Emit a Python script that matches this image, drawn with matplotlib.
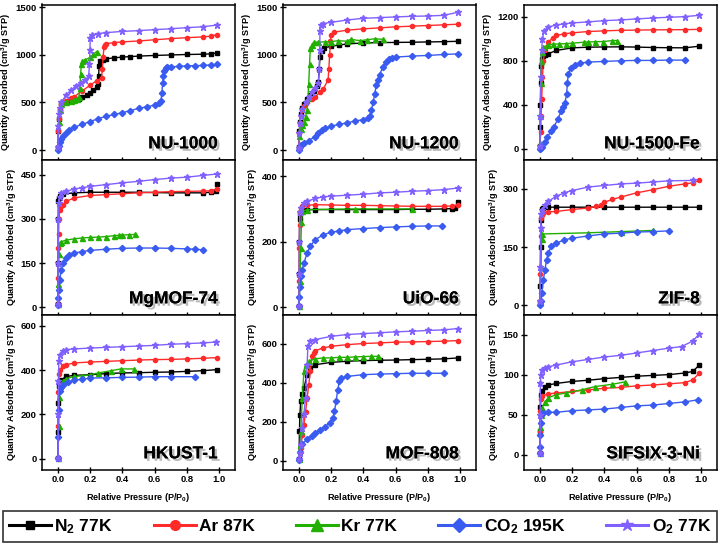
import matplotlib
matplotlib.use("Agg")
import matplotlib.pyplot as plt
import matplotlib.patheffects as pe
from matplotlib.lines import Line2D

plt.rcParams["font.family"] = ["Liberation Sans", "DejaVu Sans"]
plt.rcParams["font.weight"] = "bold"
plt.rcParams["mathtext.fontset"] = "custom"
plt.rcParams["mathtext.rm"] = "Liberation Sans:bold"
plt.rcParams["mathtext.bf"] = "Liberation Sans:bold"
plt.rcParams["mathtext.default"] = "bf"

# ── data (P/P0, cm3/g STP) ─────────────────────
# NU-1000
nu1000_n2_x = [0.0, 0.002, 0.005, 0.01, 0.02, 0.03, 0.05, 0.08, 0.1, 0.13, 0.15, 0.18, 0.2, 0.22, 0.24, 0.25, 0.252, 0.255, 0.26, 0.28, 0.3, 0.35, 0.4, 0.45, 0.5, 0.6, 0.7, 0.8, 0.9, 0.95, 0.99]
nu1000_n2_y = [20, 200, 330, 420, 480, 500, 510, 520, 525, 540, 560, 580, 602, 630, 660, 690, 780, 880, 935, 950, 960, 970, 978, 983, 988, 995, 1000, 1005, 1008, 1012, 1020]
nu1000_ar_x = [0.0, 0.002, 0.005, 0.01, 0.02, 0.03, 0.05, 0.08, 0.1, 0.15, 0.2, 0.24, 0.27, 0.275, 0.28, 0.285, 0.29, 0.3, 0.35, 0.4, 0.5, 0.6, 0.7, 0.8, 0.9, 0.95, 0.99]
nu1000_ar_y = [30, 200, 330, 420, 480, 500, 520, 545, 560, 623, 682, 730, 755, 850, 980, 1080, 1110, 1120, 1130, 1138, 1147, 1160, 1172, 1182, 1190, 1198, 1215]
nu1000_kr_x = [0.0, 0.005, 0.01, 0.02, 0.05, 0.08, 0.1, 0.12, 0.13, 0.135, 0.14, 0.145, 0.15, 0.17, 0.2, 0.22, 0.24]
nu1000_kr_y = [40, 300, 420, 480, 508, 515, 525, 540, 560, 650, 800, 900, 940, 950, 975, 1010, 1035]
nu1000_co2_x = [0.0, 0.005, 0.01, 0.02, 0.03, 0.05, 0.07, 0.1, 0.15, 0.2, 0.25, 0.3, 0.35, 0.4, 0.45, 0.5, 0.55, 0.6, 0.63, 0.64, 0.645, 0.65, 0.655, 0.66, 0.67, 0.68, 0.7, 0.75, 0.8, 0.85, 0.9, 0.95, 0.99]
nu1000_co2_y = [0, 40, 80, 120, 145, 180, 212, 240, 270, 300, 330, 355, 375, 393, 415, 438, 455, 472, 490, 520, 600, 700, 780, 830, 860, 870, 875, 880, 885, 888, 890, 895, 900]
nu1000_o2_x = [0.0, 0.002, 0.005, 0.01, 0.02, 0.05, 0.08, 0.11, 0.14, 0.17, 0.19, 0.195, 0.198, 0.2, 0.21, 0.25, 0.3, 0.4, 0.5, 0.6, 0.7, 0.8, 0.9, 0.99]
nu1000_o2_y = [30, 250, 380, 440, 500, 580, 630, 672, 705, 734, 776, 900, 1050, 1180, 1215, 1225, 1235, 1248, 1256, 1266, 1276, 1287, 1297, 1315]

# NU-1200
nu1200_n2_x = [0.0, 0.002, 0.005, 0.01, 0.02, 0.03, 0.05, 0.07, 0.09, 0.11, 0.12, 0.125, 0.13, 0.14, 0.155, 0.2, 0.25, 0.3, 0.4, 0.5, 0.6, 0.7, 0.8, 0.9, 0.99]
nu1200_n2_y = [30, 200, 300, 380, 440, 487, 535, 574, 625, 677, 720, 850, 980, 1040, 1075, 1092, 1105, 1116, 1127, 1130, 1132, 1134, 1137, 1140, 1144]
nu1200_ar_x = [0.0, 0.002, 0.005, 0.01, 0.02, 0.03, 0.05, 0.08, 0.1, 0.13, 0.15, 0.18, 0.185, 0.19, 0.195, 0.2, 0.22, 0.3, 0.4, 0.5, 0.6, 0.7, 0.8, 0.9, 0.99]
nu1200_ar_y = [30, 180, 280, 360, 420, 460, 500, 535, 556, 610, 643, 735, 850, 1000, 1150, 1205, 1241, 1261, 1275, 1285, 1296, 1303, 1310, 1317, 1324]
nu1200_kr_x = [0.0, 0.01, 0.02, 0.03, 0.04, 0.05, 0.055, 0.06, 0.065, 0.07, 0.08, 0.09, 0.12, 0.16, 0.2, 0.24, 0.3, 0.32, 0.38, 0.42, 0.47, 0.52]
nu1200_kr_y = [150, 220, 260, 300, 350, 420, 550, 695, 900, 1075, 1110, 1134, 1135, 1138, 1140, 1150, 1145, 1165, 1150, 1160, 1170, 1165]
nu1200_co2_x = [0.0, 0.005, 0.01, 0.03, 0.06, 0.1, 0.12, 0.14, 0.16, 0.2, 0.25, 0.3, 0.35, 0.4, 0.43, 0.44, 0.45, 0.46, 0.47, 0.48, 0.49, 0.5, 0.52, 0.54, 0.56, 0.58, 0.6, 0.7, 0.8, 0.9, 0.99]
nu1200_co2_y = [0, 30, 50, 73, 100, 140, 175, 210, 230, 252, 270, 287, 305, 321, 335, 360, 420, 500, 590, 680, 740, 790, 870, 930, 960, 970, 978, 988, 995, 1005, 1012]
nu1200_o2_x = [0.0, 0.002, 0.005, 0.01, 0.02, 0.04, 0.06, 0.08, 0.1, 0.12, 0.125, 0.128, 0.13, 0.135, 0.15, 0.2, 0.3, 0.4, 0.5, 0.6, 0.7, 0.8, 0.9, 0.99]
nu1200_o2_y = [20, 180, 280, 360, 430, 500, 560, 610, 650, 700, 850, 1050, 1250, 1320, 1330, 1344, 1368, 1386, 1393, 1400, 1407, 1410, 1417, 1450]

# NU-1500-Fe
nu1500_n2_x = [0.0, 0.001, 0.002, 0.004, 0.006, 0.01, 0.02, 0.03, 0.05, 0.1, 0.2, 0.3, 0.4, 0.5, 0.6, 0.7, 0.8, 0.9, 0.99]
nu1500_n2_y = [30, 200, 400, 600, 750, 820, 845, 855, 863, 893, 917, 923, 925, 926, 924, 920, 918, 917, 932]
nu1500_ar_x = [0.0, 0.003, 0.006, 0.01, 0.015, 0.02, 0.03, 0.05, 0.08, 0.1, 0.15, 0.2, 0.3, 0.4, 0.5, 0.6, 0.7, 0.8, 0.9, 0.99]
nu1500_ar_y = [30, 150, 300, 450, 650, 800, 893, 968, 1010, 1029, 1044, 1053, 1065, 1071, 1076, 1078, 1080, 1081, 1082, 1085]
nu1500_kr_x = [0.0, 0.002, 0.004, 0.006, 0.01, 0.02, 0.05, 0.08, 0.12, 0.16, 0.2, 0.27, 0.3, 0.34, 0.39, 0.45, 0.48]
nu1500_kr_y = [50, 300, 600, 800, 880, 923, 944, 950, 953, 955, 959, 968, 971, 972, 974, 983, 983]
nu1500_co2_x = [0.0, 0.005, 0.015, 0.03, 0.046, 0.07, 0.087, 0.11, 0.13, 0.145, 0.155, 0.165, 0.17, 0.175, 0.19, 0.22, 0.25, 0.3, 0.4, 0.5, 0.6, 0.7, 0.8, 0.9]
nu1500_co2_y = [0, 10, 21, 65, 111, 165, 201, 270, 340, 385, 420, 500, 600, 680, 730, 764, 779, 788, 794, 800, 803, 803, 806, 806]
nu1500_o2_x = [0.0, 0.002, 0.005, 0.01, 0.015, 0.025, 0.05, 0.1, 0.15, 0.2, 0.3, 0.4, 0.5, 0.6, 0.7, 0.8, 0.9, 0.99]
nu1500_o2_y = [30, 300, 650, 900, 1000, 1074, 1104, 1125, 1134, 1143, 1152, 1164, 1170, 1179, 1188, 1194, 1200, 1212]

# MgMOF-74
mgmof_n2_x = [0.0, 0.0005, 0.001, 0.002, 0.005, 0.01, 0.03, 0.1, 0.2, 0.3, 0.4, 0.5, 0.6, 0.7, 0.8, 0.9, 0.95, 0.98, 0.99]
mgmof_n2_y = [10, 150, 300, 360, 370, 376, 384, 388, 390, 390, 390, 390, 389, 388, 388, 388, 390, 395, 419]
mgmof_ar_x = [0.0, 0.001, 0.002, 0.003, 0.005, 0.01, 0.02, 0.03, 0.05, 0.1, 0.2, 0.3, 0.4, 0.5, 0.6, 0.7, 0.8, 0.9, 0.95, 0.99]
mgmof_ar_y = [10, 100, 200, 250, 300, 331, 342, 348, 359, 371, 379, 382, 385, 388, 390, 392, 393, 394, 395, 400]
mgmof_kr_x = [0.0, 0.002, 0.005, 0.01, 0.02, 0.05, 0.1, 0.15, 0.2, 0.25, 0.3, 0.35, 0.38, 0.4, 0.44, 0.48]
mgmof_kr_y = [10, 80, 180, 218, 222, 228, 232, 235, 237, 238, 240, 243, 244, 245, 246, 247]
mgmof_co2_x = [0.0, 0.002, 0.005, 0.01, 0.02, 0.03, 0.05, 0.07, 0.1, 0.15, 0.2, 0.3, 0.4, 0.5, 0.6, 0.7, 0.8, 0.85, 0.9]
mgmof_co2_y = [8, 30, 60, 93, 127, 150, 167, 177, 184, 189, 193, 197, 200, 201, 201, 200, 198, 197, 195]
mgmof_o2_x = [0.0, 0.001, 0.002, 0.005, 0.01, 0.02, 0.05, 0.1, 0.15, 0.2, 0.3, 0.4, 0.5, 0.6, 0.7, 0.8, 0.9, 0.99]
mgmof_o2_y = [10, 150, 300, 355, 375, 388, 393, 401, 405, 410, 416, 422, 427, 433, 438, 441, 447, 452]

# UiO-66
uio_n2_x = [0.0, 0.001, 0.002, 0.003, 0.005, 0.01, 0.02, 0.05, 0.1, 0.2, 0.3, 0.4, 0.5, 0.6, 0.7, 0.8, 0.9, 0.95, 0.97, 0.99]
uio_n2_y = [5, 100, 200, 270, 285, 292, 296, 298, 298, 298, 298, 298, 298, 298, 299, 299, 300, 301, 303, 320]
uio_ar_x = [0.0, 0.001, 0.002, 0.003, 0.005, 0.01, 0.02, 0.05, 0.1, 0.2, 0.3, 0.4, 0.5, 0.6, 0.7, 0.8, 0.9, 0.95, 0.99]
uio_ar_y = [5, 80, 180, 250, 290, 302, 308, 311, 313, 312, 311, 311, 310, 309, 308, 308, 308, 309, 313]
uio_kr_x = [0.0, 0.005, 0.01, 0.015, 0.02, 0.05, 0.35, 0.7]
uio_kr_y = [5, 80, 180, 260, 293, 298, 300, 300]
uio_co2_x = [0.0, 0.002, 0.005, 0.01, 0.02, 0.03, 0.05, 0.07, 0.1, 0.15, 0.2, 0.25, 0.3, 0.4, 0.5, 0.6, 0.7, 0.8, 0.89]
uio_co2_y = [2, 30, 63, 94, 114, 135, 165, 186, 206, 221, 229, 233, 237, 240, 243, 245, 247, 248, 248]
uio_o2_x = [0.0, 0.001, 0.002, 0.005, 0.01, 0.03, 0.05, 0.1, 0.15, 0.2, 0.3, 0.4, 0.5, 0.6, 0.7, 0.8, 0.9, 0.99]
uio_o2_y = [5, 100, 200, 290, 303, 318, 323, 332, 337, 339, 342, 345, 349, 351, 354, 356, 359, 364]

# ZIF-8
zif_n2_x = [0.0, 0.002, 0.004, 0.006, 0.01, 0.02, 0.05, 0.1, 0.2, 0.3, 0.4, 0.5, 0.6, 0.7, 0.8, 0.9, 0.99]
zif_n2_y = [5, 50, 150, 220, 248, 251, 253, 253, 253, 253, 253, 253, 253, 253, 253, 253, 253]
zif_ar_x = [0.0, 0.002, 0.004, 0.006, 0.01, 0.02, 0.05, 0.1, 0.2, 0.3, 0.35, 0.38, 0.4, 0.45, 0.5, 0.6, 0.7, 0.8, 0.9, 0.95, 0.99]
zif_ar_y = [10, 80, 180, 225, 233, 238, 241, 242, 247, 251, 255, 259, 266, 273, 279, 290, 298, 307, 313, 316, 322]
zif_kr_x = [0.0, 0.005, 0.01, 0.015, 0.3, 0.5, 0.7]
zif_kr_y = [10, 100, 170, 184, 187, 190, 193]
zif_co2_x = [0.0, 0.005, 0.01, 0.02, 0.03, 0.04, 0.05, 0.07, 0.1, 0.15, 0.2, 0.3, 0.4, 0.5, 0.6, 0.7, 0.8]
zif_co2_y = [2, 10, 31, 65, 91, 117, 134, 152, 160, 169, 173, 179, 184, 186, 189, 190, 192]
zif_o2_x = [0.0, 0.001, 0.003, 0.006, 0.01, 0.03, 0.05, 0.1, 0.15, 0.2, 0.3, 0.4, 0.5, 0.6, 0.7, 0.8, 0.95]
zif_o2_y = [10, 100, 200, 235, 247, 258, 268, 281, 290, 296, 305, 309, 313, 315, 318, 321, 322]

# HKUST-1
hkust_n2_x = [0.0, 0.001, 0.002, 0.005, 0.01, 0.02, 0.05, 0.1, 0.2, 0.3, 0.4, 0.5, 0.6, 0.7, 0.8, 0.9, 0.99]
hkust_n2_y = [5, 120, 250, 330, 345, 356, 371, 376, 379, 384, 387, 388, 390, 391, 394, 397, 402]
hkust_ar_x = [0.0, 0.001, 0.002, 0.005, 0.01, 0.03, 0.05, 0.1, 0.2, 0.3, 0.4, 0.5, 0.6, 0.7, 0.8, 0.9, 0.99]
hkust_ar_y = [5, 150, 300, 380, 402, 417, 424, 432, 436, 439, 442, 445, 447, 448, 450, 453, 456]
hkust_kr_x = [0.0, 0.003, 0.006, 0.01, 0.03, 0.05, 0.1, 0.15, 0.2, 0.25, 0.33, 0.39, 0.47]
hkust_kr_y = [5, 150, 280, 330, 349, 361, 371, 374, 379, 387, 397, 405, 405]
hkust_co2_x = [0.0, 0.002, 0.005, 0.01, 0.02, 0.03, 0.06, 0.1, 0.15, 0.2, 0.3, 0.4, 0.5, 0.6, 0.7, 0.85]
hkust_co2_y = [5, 100, 220, 304, 325, 334, 346, 353, 359, 364, 365, 367, 368, 370, 370, 370]
hkust_o2_x = [0.0, 0.001, 0.002, 0.005, 0.01, 0.03, 0.05, 0.1, 0.2, 0.3, 0.4, 0.5, 0.6, 0.7, 0.8, 0.9, 0.98]
hkust_o2_y = [5, 200, 350, 440, 469, 487, 492, 495, 499, 502, 505, 508, 511, 516, 519, 522, 526]

# MOF-808
mof808_n2_x = [0.0, 0.002, 0.005, 0.01, 0.02, 0.03, 0.05, 0.07, 0.1, 0.2, 0.3, 0.4, 0.5, 0.6, 0.7, 0.8, 0.9, 0.99]
mof808_n2_y = [10, 150, 235, 304, 345, 373, 442, 476, 493, 505, 511, 514, 516, 517, 519, 521, 523, 528]
mof808_ar_x = [0.0, 0.005, 0.01, 0.02, 0.03, 0.04, 0.05, 0.06, 0.07, 0.08, 0.09, 0.1, 0.15, 0.2, 0.3, 0.4, 0.5, 0.6, 0.7, 0.8, 0.9, 0.99]
mof808_ar_y = [10, 40, 64, 130, 184, 250, 321, 390, 459, 536, 555, 565, 579, 588, 596, 602, 605, 609, 610, 612, 614, 617]
mof808_kr_x = [0.0, 0.005, 0.01, 0.02, 0.03, 0.04, 0.06, 0.1, 0.15, 0.2, 0.25, 0.3, 0.35, 0.4, 0.45, 0.49]
mof808_kr_y = [10, 80, 150, 321, 459, 493, 511, 523, 528, 528, 531, 531, 533, 535, 536, 536]
mof808_co2_x = [0.0, 0.005, 0.02, 0.05, 0.08, 0.1, 0.13, 0.16, 0.19, 0.21, 0.22, 0.23, 0.24, 0.25, 0.26, 0.3, 0.4, 0.5, 0.6, 0.7, 0.8, 0.9]
mof808_co2_y = [5, 46, 85, 110, 128, 141, 158, 175, 193, 218, 253, 304, 364, 407, 425, 433, 442, 445, 447, 449, 449, 449]
mof808_o2_x = [0.0, 0.005, 0.01, 0.02, 0.03, 0.04, 0.05, 0.055, 0.07, 0.1, 0.2, 0.3, 0.4, 0.5, 0.6, 0.7, 0.8, 0.9, 0.99]
mof808_o2_y = [10, 40, 80, 167, 240, 321, 493, 588, 614, 622, 639, 648, 653, 657, 662, 665, 669, 672, 679]

# SIFSIX-3-Ni
sifsix_n2_x = [0.0, 0.001, 0.002, 0.005, 0.01, 0.03, 0.05, 0.1, 0.2, 0.3, 0.4, 0.5, 0.6, 0.7, 0.8, 0.9, 0.95, 0.99]
sifsix_n2_y = [2, 30, 60, 75, 79, 85, 87, 89, 91.5, 93, 95, 96.5, 98, 99, 100, 102, 104, 112]
sifsix_ar_x = [0.0, 0.001, 0.002, 0.003, 0.01, 0.05, 0.1, 0.2, 0.3, 0.4, 0.5, 0.6, 0.7, 0.8, 0.9, 0.95, 0.99]
sifsix_ar_y = [2, 30, 55, 70, 73, 76, 77, 79, 81, 83, 84, 86, 87, 88.5, 90, 93.5, 102]
sifsix_kr_x = [0.0, 0.002, 0.005, 0.01, 0.03, 0.05, 0.1, 0.16, 0.26, 0.34, 0.45, 0.53]
sifsix_kr_y = [2, 35, 50, 58, 66, 71, 75, 77, 81, 85, 88, 91]
sifsix_co2_x = [0.0, 0.001, 0.002, 0.003, 0.005, 0.02, 0.05, 0.1, 0.2, 0.3, 0.4, 0.5, 0.6, 0.7, 0.8, 0.9, 0.98]
sifsix_co2_y = [2, 10, 25, 40, 50, 52, 53, 53, 55, 56, 57, 59, 61, 62, 64, 66, 68.5]
sifsix_o2_x = [0.0, 0.001, 0.002, 0.005, 0.01, 0.03, 0.05, 0.1, 0.2, 0.3, 0.4, 0.5, 0.6, 0.7, 0.8, 0.88, 0.95, 0.99]
sifsix_o2_y = [2, 50, 90, 100, 106, 108, 109.5, 112, 116, 119, 122, 124, 127, 130, 133, 135, 142, 151]

names = ["NU-1000", "NU-1200", "NU-1500-Fe", "MgMOF-74", "UiO-66", "ZIF-8",
         "HKUST-1", "MOF-808", "SIFSIX-3-Ni"]
yticks = [[0, 500, 1000, 1500], [0, 500, 1000, 1500], [0, 400, 800, 1200],
          [0, 150, 300, 450], [0, 200, 400], [0, 150, 300],
          [0, 200, 400, 600], [0, 200, 400, 600], [0, 50, 100, 150]]
ylims = [(-105, 1531), (-105, 1531), (-100, 1310),
         (-26, 501), (-24, 451), (-25, 376),
         (-50, 650), (-48, 751), (-19, 175)]

panels = [
    [(nu1000_n2_x, nu1000_n2_y), (nu1000_ar_x, nu1000_ar_y), (nu1000_kr_x, nu1000_kr_y), (nu1000_co2_x, nu1000_co2_y), (nu1000_o2_x, nu1000_o2_y)],
    [(nu1200_n2_x, nu1200_n2_y), (nu1200_ar_x, nu1200_ar_y), (nu1200_kr_x, nu1200_kr_y), (nu1200_co2_x, nu1200_co2_y), (nu1200_o2_x, nu1200_o2_y)],
    [(nu1500_n2_x, nu1500_n2_y), (nu1500_ar_x, nu1500_ar_y), (nu1500_kr_x, nu1500_kr_y), (nu1500_co2_x, nu1500_co2_y), (nu1500_o2_x, nu1500_o2_y)],
    [(mgmof_n2_x, mgmof_n2_y), (mgmof_ar_x, mgmof_ar_y), (mgmof_kr_x, mgmof_kr_y), (mgmof_co2_x, mgmof_co2_y), (mgmof_o2_x, mgmof_o2_y)],
    [(uio_n2_x, uio_n2_y), (uio_ar_x, uio_ar_y), (uio_kr_x, uio_kr_y), (uio_co2_x, uio_co2_y), (uio_o2_x, uio_o2_y)],
    [(zif_n2_x, zif_n2_y), (zif_ar_x, zif_ar_y), (zif_kr_x, zif_kr_y), (zif_co2_x, zif_co2_y), (zif_o2_x, zif_o2_y)],
    [(hkust_n2_x, hkust_n2_y), (hkust_ar_x, hkust_ar_y), (hkust_kr_x, hkust_kr_y), (hkust_co2_x, hkust_co2_y), (hkust_o2_x, hkust_o2_y)],
    [(mof808_n2_x, mof808_n2_y), (mof808_ar_x, mof808_ar_y), (mof808_kr_x, mof808_kr_y), (mof808_co2_x, mof808_co2_y), (mof808_o2_x, mof808_o2_y)],
    [(sifsix_n2_x, sifsix_n2_y), (sifsix_ar_x, sifsix_ar_y), (sifsix_kr_x, sifsix_kr_y), (sifsix_co2_x, sifsix_co2_y), (sifsix_o2_x, sifsix_o2_y)],
]

gas_labels = [r"N$_2$ 77K", "Ar 87K", "Kr 77K", r"CO$_2$ 195K", r"O$_2$ 77K"]
colors  = ["black", "#ff2a2a", "#22b000", "#3a5bf0", "#8060ff"]
markers = ["s", "o", "^", "D", "*"]
msizes  = [2.6, 3.0, 3.6, 3.2, 4.6]

# ── layout ───────────────────────────────────────────────────────────
fig = plt.figure(figsize=(7.2, 5.46), dpi=100)
lefts   = [42 / 720, 283 / 720, 524 / 720]
bottoms = [1 - 160 / 546, 1 - 315 / 546, 1 - 470 / 546]
w, h = 193 / 720, 155.5 / 546

for i, name in enumerate(names):
    r, c = divmod(i, 3)
    ax = fig.add_axes([lefts[c], bottoms[r], w, h])
    for k, (xs, ys) in enumerate(panels[i]):
        ax.plot(xs, ys, color=colors[k], marker=markers[k], ms=msizes[k],
                lw=1.0, mec=colors[k], zorder=2 + k)
    ax.set_xlim(-0.1, 1.1)
    ax.set_ylim(*ylims[i])
    ax.set_yticks(yticks[i])
    ax.set_xticks([0.0, 0.2, 0.4, 0.6, 0.8, 1.0])
    ax.tick_params(direction="inout", length=4.5, width=1, labelsize=6.8, pad=1.5)
    for lab in ax.get_xticklabels() + ax.get_yticklabels():
        lab.set_fontweight("bold")
    for s in ax.spines.values():
        s.set_linewidth(1.1)
    ax.set_ylabel("Quantity Adsorbed (cm$^3$/g STP)", fontsize=6.6, fontweight="bold", labelpad=1.5)
    if r == 2:
        ax.set_xticklabels(["0.0", "0.2", "0.4", "0.6", "0.8", "1.0"])
        ax.set_xlabel("Relative Pressure (P/P$_0$)", fontsize=6.5, fontweight="bold", labelpad=5)
    else:
        ax.tick_params(labelbottom=False)
    ax.text(0.91, 0.075, name, transform=ax.transAxes, ha="right", va="baseline",
            fontsize=12.5, fontweight="bold", zorder=10,
            path_effects=[pe.withSimplePatchShadow(offset=(1.8, -1.8), shadow_rgbFace="0.55", alpha=0.6),
                          pe.Normal()])

handles = [Line2D([], [], color=colors[k], marker=markers[k], lw=2.2,
                  ms=[6, 7, 8, 7.5, 9][k], mec=colors[k]) for k in range(5)]
leg = fig.legend(handles, gas_labels, loc="lower left",
                 bbox_to_anchor=(3 / 720, 4 / 546, 714 / 720, 36 / 546),
                 mode="expand", ncol=5, fontsize=12.5, frameon=True, fancybox=False,
                 handlelength=2.4, handletextpad=0.2, borderpad=0.35, borderaxespad=0)
leg.get_frame().set_edgecolor("black")
leg.get_frame().set_linewidth(1.2)
for t in leg.get_texts():
    t.set_fontweight("bold")

fig.savefig("out.png", dpi=100)
